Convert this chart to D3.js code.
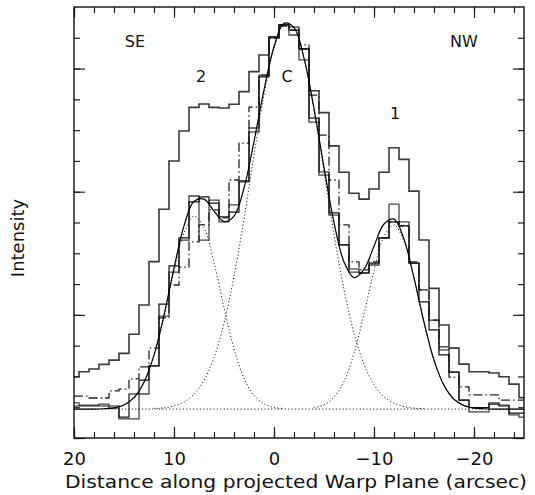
<!DOCTYPE html>
<html><head><meta charset="utf-8">
<script src="https://cdn.jsdelivr.net/npm/d3@7/dist/d3.min.js"></script>
<style>body{margin:0;background:#fff}svg{display:block}text{font-family:"DejaVu Sans",sans-serif;fill:#111}</style>
</head><body><svg id="c" width="535" height="495"></svg>
<script>
// bin centres (arcsec) along projected warp plane
const binCenters = [20,19,18,17,16,15,14,13,12,11,10,9,8,7,6,5,4,3,2,1,0,-1,-2,-3,-4,-5,-6,-7,-8,-9,-10,-11,-12,-13,-14,-15,-16,-17,-18,-19,-20,-21,-22,-23,-24,-25];
// broad outer profile
const profileOuter = [19.9,21.5,22.4,23.9,25.3,27.5,33.7,43.2,57.3,74.3,90.0,99.7,107.4,108.5,107.4,107.2,108.4,112.5,119.0,124.4,130.0,134.2,132.5,126.4,112.8,105.7,94.9,86.3,79.5,77.6,80.9,86.3,94.3,90.5,80.2,64.3,48.6,36.7,29.2,24.0,21.5,21.5,21.1,19.9,17.5,13.1];
// profile following the fit
const profileA = [10.4,10.4,10.4,10.4,10.4,6.8,14.3,18.8,23.4,43.5,55.9,65.0,76.7,78.3,76.3,71.8,73.4,83.5,99.4,117.3,130.3,134.2,133.5,126.4,103.9,86.4,73.1,62.7,54.9,53.6,56.8,65.0,70.2,68.9,56.8,44.2,35.1,27.0,21.4,12.3,9.9,9.9,11.0,10.4,8.1,8.1];
// second inner profile
const profileB = [11.4,10.7,10.7,11.0,9.7,6.2,6.2,14.3,23.4,39.6,53.9,64.3,78.6,64.3,77.3,70.2,75.7,83.2,100.7,117.9,130.3,134.2,130.9,122.8,102.6,85.4,72.4,62.7,53.9,53.6,56.2,65.0,76.0,70.2,56.8,48.1,38.3,28.6,21.4,12.3,8.5,8.5,11.4,10.7,7.5,6.8];
// dash-dot profile
const profileDashDot = [13.6,13.6,13.0,13.0,15.3,15.9,19.2,23.1,29.2,39.0,49.7,55.5,63.7,69.2,74.1,71.5,83.8,95.8,107.5,117.9,129.9,133.8,132.5,127.7,111.4,98.4,83.8,69.2,57.2,54.6,57.2,65.0,70.2,68.9,57.2,48.1,38.3,29.6,19.8,16.6,14.0,14.0,14.0,12.3,12.3,12.3];
// three-component fit (sum) sampled at bin centres
const fitTotal = [9.4,9.4,9.4,9.5,9.8,10.7,13.1,18.1,26.9,39.9,55.2,68.9,76.9,77.6,73.7,70.3,72.1,81.2,96.3,113.1,127.1,134.7,133.3,123.4,107.0,87.9,70.0,57.2,52.1,54.8,62.3,69.5,71.1,64.6,52.0,37.6,25.3,17.1,12.6,10.5,9.7,9.5,9.4,9.4,9.4,9.4];
// individual components (incl. baseline)
const comp2X = [16,15,14,13,12,11,10,9,8,7,6,5,4,3,2,1,0,-1];
const comp2Y = [9.8,10.7,13.1,18.0,26.8,39.5,54.2,66.6,72.1,68.3,57.0,42.4,29.0,19.4,13.8,11.1,9.9,9.6];
const compCX = [12,11,10,9,8,7,6,5,4,3,2,1,0,-1,-2,-3,-4,-5,-6,-7,-8,-9,-10,-11,-12,-13,-14,-15];
const compCY = [9.6,9.8,10.4,11.7,14.2,18.7,26.1,37.3,52.5,71.2,91.9,111.4,126.6,134.5,133.3,123.3,106.6,86.5,66.1,48.2,34.0,23.9,17.3,13.4,11.3,10.2,9.7,9.5];
const comp1X = [-4,-5,-6,-7,-8,-9,-10,-11,-12,-13,-14,-15,-16,-17,-18,-19,-20];
const comp1Y = [9.8,10.8,13.3,18.4,27.5,40.3,54.4,65.5,69.2,63.8,51.7,37.5,25.3,17.1,12.6,10.5,9.7];
const baseline = 9.4;
const xMajorTicks = [20,10,0,-10,-20];
const xMinorTicks = [20,18,16,14,12,10,8,6,4,2,0,-2,-4,-6,-8,-10,-12,-14,-16,-18,-20,-22,-24];
const yMajorTicks = [0,40,80,120];
const yMinorTicks = [0,10,20,30,40,50,60,70,80,90,100,110,120,130];
const labels = [{t:"SE",x:13.9,y:127},{t:"2",x:7.3,y:115.5},{t:"C",x:-1.3,y:115.8},{t:"1",x:-12.1,y:103.5},{t:"NW",x:-19.0,y:127}];

const svg = d3.select("#c");
const L=74,R=524,T=7,B=438;
const x = d3.scaleLinear().domain([20,-25]).range([L,R]);
const y = d3.scaleLinear().domain([0,140]).range([B,T]);

svg.append("defs").append("clipPath").attr("id","pc").append("rect")
  .attr("x",L).attr("y",T).attr("width",R-L).attr("height",B-T);
const g = svg.append("g").attr("clip-path","url(#pc)");

const step = d3.line().x((d,i)=>x(binCenters[i])).y(d=>y(d)).curve(d3.curveStep);
g.append("path").datum(profileOuter).attr("d",step).attr("fill","none").attr("stroke","#3a3a3a").attr("stroke-width",1.6);
g.append("path").datum(profileB).attr("d",step).attr("fill","none").attr("stroke","#444").attr("stroke-width",1.3);
g.append("path").datum(profileDashDot).attr("d",step).attr("fill","none").attr("stroke","#222").attr("stroke-width",1.3).attr("stroke-dasharray","9,3,1.5,3");
g.append("path").datum(profileA).attr("d",step).attr("fill","none").attr("stroke","#111").attr("stroke-width",1.2);

// baseline and components (dotted)
g.append("path").datum(binCenters).attr("d",d3.line().x(d=>x(d)).y(()=>y(baseline)))
  .attr("fill","none").attr("stroke","#222").attr("stroke-width",1).attr("stroke-dasharray","1.2,2.2");
const smooth = (xs)=>d3.line().x((d,i)=>x(xs[i])).y(d=>y(d)).curve(d3.curveCatmullRom.alpha(0.5));
[[comp2X,comp2Y],[compCX,compCY],[comp1X,comp1Y]].forEach(([xs,ys])=>{
  g.append("path").datum(ys).attr("d",smooth(xs)).attr("fill","none").attr("stroke","#222")
   .attr("stroke-width",1).attr("stroke-dasharray","1.2,2.2");
});
g.append("path").datum(fitTotal).attr("d",smooth(binCenters)).attr("fill","none").attr("stroke","#000").attr("stroke-width",1.2);

// axes (ticks inward)
function styleAxis(sel){ sel.select(".domain").remove(); sel.selectAll(".tick line").attr("stroke","#222").attr("stroke-width",1.2); }
svg.append("g").attr("transform",`translate(0,${B})`).call(d3.axisBottom(x).tickValues(xMinorTicks).tickSize(-6).tickFormat("")).call(styleAxis);
const bx = svg.append("g").attr("transform",`translate(0,${B})`).call(d3.axisBottom(x).tickValues(xMajorTicks).tickSize(-11).tickPadding(14)).call(styleAxis);
bx.selectAll("text").attr("font-size",18).attr("font-family","DejaVu Sans").attr("fill","#111");
svg.append("g").attr("transform",`translate(0,${T})`).call(d3.axisTop(x).tickValues(xMinorTicks).tickSize(-6).tickFormat("")).call(styleAxis);
svg.append("g").attr("transform",`translate(0,${T})`).call(d3.axisTop(x).tickValues(xMajorTicks).tickSize(-11).tickFormat("")).call(styleAxis);
svg.append("g").attr("transform",`translate(${L},0)`).call(d3.axisLeft(y).tickValues(yMinorTicks).tickSize(-6).tickFormat("")).call(styleAxis);
svg.append("g").attr("transform",`translate(${L},0)`).call(d3.axisLeft(y).tickValues(yMajorTicks).tickSize(-11).tickFormat("")).call(styleAxis);
svg.append("g").attr("transform",`translate(${R},0)`).call(d3.axisRight(y).tickValues(yMinorTicks).tickSize(-6).tickFormat("")).call(styleAxis);
svg.append("g").attr("transform",`translate(${R},0)`).call(d3.axisRight(y).tickValues(yMajorTicks).tickSize(-11).tickFormat("")).call(styleAxis);
svg.append("rect").attr("x",L).attr("y",T).attr("width",R-L).attr("height",B-T).attr("fill","none").attr("stroke","#111").attr("stroke-width",1.4);

svg.append("text").attr("x",65).attr("y",488).attr("font-size",18).attr("textLength",462).attr("lengthAdjust","spacingAndGlyphs").text("Distance along projected Warp Plane (arcsec)");
svg.append("text").attr("transform","translate(24,238) rotate(-90)").attr("text-anchor","middle").attr("font-size",18).text("Intensity");
svg.selectAll("text.lab").data(labels).enter().append("text").attr("class","lab")
  .attr("x",d=>x(d.x)).attr("y",d=>y(d.y)).attr("text-anchor","middle").attr("font-size",16).text(d=>d.t);
</script></body></html>
